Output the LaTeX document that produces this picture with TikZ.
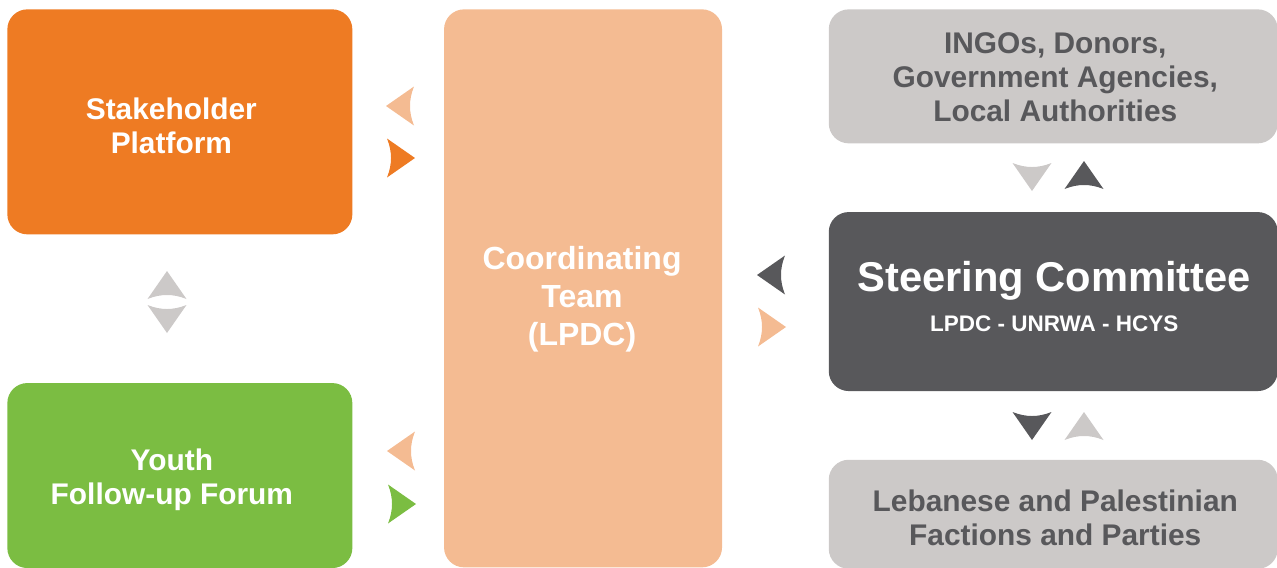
\documentclass[tikz,border=0pt]{standalone}
\usepackage{fontspec}
\setmainfont{Liberation Sans}
\usepackage{xcolor}
\usetikzlibrary{positioning}

\definecolor{platorange}{HTML}{EE7B23}
\definecolor{forumgreen}{HTML}{7BBD42}
\definecolor{teampeach}{HTML}{F4BB92}
\definecolor{partnergrey}{HTML}{CCC9C8}
\definecolor{steerdark}{HTML}{58585B}

% lines of a box label, nudged by (#1/2, #2) inside the box
\newcommand\boxlines[3]{\hspace*{#1}\raisebox{#2}[\height][\depth]{\begin{tabular}{@{}c@{}}#3\end{tabular}}}

\begin{document}
\begin{tikzpicture}[
  box/.style={rounded corners=0.4cm, align=center, text=white, inner sep=0pt,
    font=\fontsize{17}{19.4}\selectfont\bfseries},
  side/.style={box, minimum width=8.98cm},
  pointer/.pic={\fill (0,0.39) .. controls (0.107,0.12) and (0.107,-0.12) .. (0,-0.39) -- (0.56,0) -- cycle;}
]
\useasboundingbox (0,0) rectangle (25.54,-11.34);

% left column
\node[box, fill=platorange, minimum width=6.9cm, minimum height=4.5cm, anchor=north west] (stake) at (0.14,-0.18)
  {\boxlines{-0.34cm}{-0.16cm}{Stakeholder\\Platform}};
\node[box, fill=forumgreen, minimum width=6.9cm, minimum height=3.7cm, below=2.96cm of stake.south west, anchor=north west] (youth)
  {\boxlines{-0.32cm}{-0.10cm}{Youth\\Follow-up Forum}};

% middle column
\node[box, fill=teampeach, minimum width=5.56cm, minimum height=11.16cm, right=1.82cm of stake.north east, anchor=north west,
  font=\fontsize{18.2}{21.6}\selectfont\bfseries] (coord) {\boxlines{-0.04cm}{-0.24cm}{Coordinating\\Team\\(LPDC)}};

% right column
\node[side, fill=partnergrey, text=steerdark, minimum height=2.68cm, right=2.12cm of coord.north east, anchor=north west] (ingo)
  {\boxlines{0.08cm}{-0.08cm}{INGOs, Donors,\\Government Agencies,\\Local Authorities}};
\node[side, fill=steerdark, minimum height=3.58cm, below=1.36cm of ingo.south west, anchor=north west,
  font=\fontsize{12.8}{22.8}\selectfont\bfseries] (steer)
  {\boxlines{0.04cm}{-0.02cm}{{\fontsize{23.7}{22.8}\selectfont Steering Committee}\\LPDC - UNRWA - HCYS}};
\node[side, fill=partnergrey, text=steerdark, minimum height=2.18cm, below=1.36cm of steer.south west, anchor=north west] (leb)
  {\boxlines{0.08cm}{-0.14cm}{Lebanese and Palestinian\\Factions and Parties}};

% exchange pointers
\pic[fill=teampeach, rotate=180] at (8.28,-2.12) {pointer};
\pic[fill=platorange] at (7.74,-3.16) {pointer};
\pic[fill=partnergrey, rotate=90] at (3.34,-5.98) {pointer};
\pic[fill=partnergrey, rotate=-90] at (3.34,-6.10) {pointer};
\pic[fill=teampeach, rotate=180] at (8.30,-9.02) {pointer};
\pic[fill=forumgreen] at (7.76,-10.08) {pointer};
\pic[fill=steerdark, rotate=180] at (15.70,-5.50) {pointer};
\pic[fill=teampeach] at (15.16,-6.54) {pointer};
\pic[fill=partnergrey, rotate=-90] at (20.64,-3.26) {pointer};
\pic[fill=steerdark, rotate=90] at (21.68,-3.78) {pointer};
\pic[fill=steerdark, rotate=-90] at (20.64,-8.24) {pointer};
\pic[fill=partnergrey, rotate=90] at (21.68,-8.80) {pointer};
\end{tikzpicture}
\end{document}
